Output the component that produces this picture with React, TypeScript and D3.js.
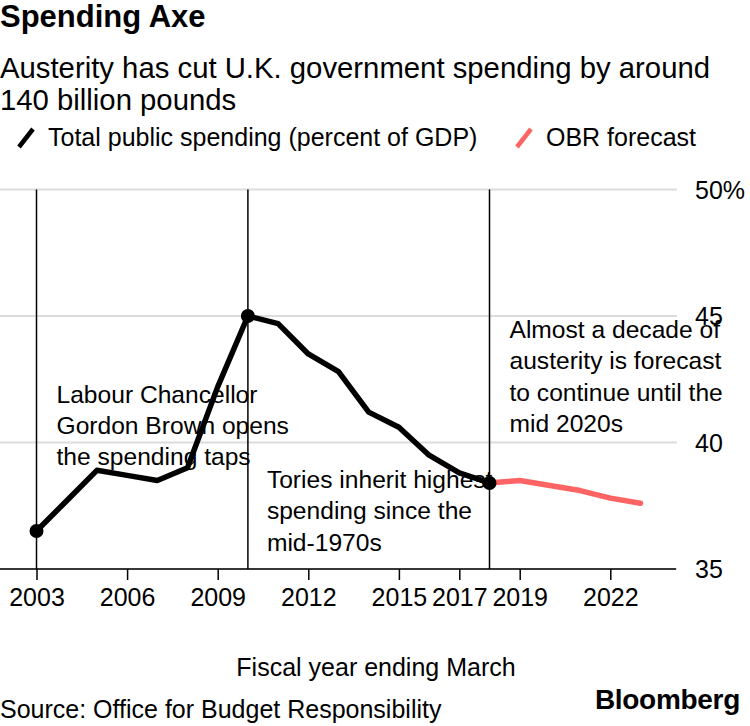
import React, { useEffect, useRef } from 'react';
import * as d3 from 'd3';

const years = [2003, 2004, 2005, 2006, 2007, 2008, 2009, 2010, 2011, 2012, 2013, 2014, 2015, 2016, 2017, 2018];
const spending = [36.5, 37.7, 38.9, 38.7, 38.5, 39.0, 42.2, 45.0, 44.7, 43.5, 42.8, 41.2, 40.6, 39.5, 38.8, 38.4];
const forecastYears = [2018, 2019, 2020, 2021, 2022, 2023];
const forecast = [38.4, 38.5, 38.3, 38.1, 37.8, 37.6];
const xTicks = [2003, 2006, 2009, 2012, 2015, 2017, 2019, 2022];
const yTicks = [35, 40, 45, 50];
const markerYears = [2003, 2010, 2018];

const annotations = [
  { year: 2003, dx: 20, value: 41.57, lines: ['Labour Chancellor', 'Gordon Brown opens', 'the spending taps'] },
  { year: 2010, dx: 19, value: 38.2, lines: ['Tories inherit highest', 'spending since the', 'mid-1970s'] },
  { year: 2018, dx: 20, value: 44.13, lines: ['Almost a decade of', 'austerity is forecast', 'to continue until the', 'mid 2020s'] },
];

const FONT = '"Liberation Sans", Arial, sans-serif';
const RED = '#ff6464';

const App = () => {
  const svgRef = useRef<SVGSVGElement>(null);

  useEffect(() => {
    const svg = d3.select(svgRef.current);
    svg.selectAll('*').remove();

    const width = 750;
    const height = 726;
    svg.attr('width', width).attr('height', height).style('font-family', FONT);

    const x = d3.scaleLinear().domain([2003, 2023]).range([36.5, 640.5]);
    const y = d3.scaleLinear().domain([35, 50]).range([569, 189.5]);

    // header
    svg.append('text').attr('x', 0).attr('y', 27).attr('font-size', 31).attr('font-weight', 700)
      .attr('fill', '#000').text('Spending Axe');
    svg.append('text').attr('x', 0).attr('y', 78).attr('font-size', 29.3).attr('fill', '#000')
      .text('Austerity has cut U.K. government spending by around');
    svg.append('text').attr('x', 0).attr('y', 110).attr('font-size', 29.3).attr('fill', '#000')
      .text('140 billion pounds');

    // legend
    const legend = [
      { label: 'Total public spending (percent of GDP)', color: '#000', x0: 19 },
      { label: 'OBR forecast', color: RED, x0: 517 },
    ];
    legend.forEach(l => {
      svg.append('line').attr('x1', l.x0).attr('y1', 147).attr('x2', l.x0 + 14).attr('y2', 129)
        .attr('stroke', l.color).attr('stroke-width', 4.5);
      svg.append('text').attr('x', l.x0 + 29).attr('y', 146).attr('font-size', 25).attr('fill', '#000').text(l.label);
    });

    // grid
    svg.append('g').selectAll('line').data(yTicks).enter().append('line')
      .attr('x1', 0).attr('x2', 677).attr('y1', d => y(d)).attr('y2', d => y(d))
      .attr('stroke', '#dcdcdc').attr('stroke-width', 2);

    // y labels
    svg.append('g').selectAll('text').data(yTicks).enter().append('text')
      .attr('x', 695).attr('y', d => y(d) + 9).attr('font-size', 25).attr('fill', '#000')
      .text(d => (d === 50 ? '50%' : String(d)));

    // x axis
    const xAxis = svg.append('g').attr('transform', 'translate(0,569)');
    xAxis.append('line').attr('x1', 0).attr('x2', 676).attr('stroke', '#000').attr('stroke-width', 1.5);
    const axisG = xAxis.append('g')
      .call(d3.axisBottom(x).tickValues(xTicks).tickFormat(d3.format('d')).tickSize(11));
    axisG.selectAll('.domain').remove();
    axisG.selectAll('.tick line').attr('stroke', '#000').attr('stroke-width', 1.5);
    axisG.selectAll('.tick text').attr('font-size', 25).attr('font-family', FONT).attr('fill', '#000')
      .attr('y', 37).attr('dy', null);

    // vertical markers
    svg.append('g').selectAll('line').data(markerYears).enter().append('line')
      .attr('x1', d => x(d)).attr('x2', d => x(d)).attr('y1', y(50)).attr('y2', 569)
      .attr('stroke', '#000').attr('stroke-width', 1.5);

    // lines
    const path = d3.line<[number, number]>().x(d => x(d[0])).y(d => y(d[1]));
    svg.append('path').datum(years.map((yr, i) => [yr, spending[i]] as [number, number]))
      .attr('d', path).attr('fill', 'none').attr('stroke', '#000').attr('stroke-width', 5.5)
      .attr('stroke-linejoin', 'round');
    svg.append('path').datum(forecastYears.map((yr, i) => [yr, forecast[i]] as [number, number]))
      .attr('d', path).attr('fill', 'none').attr('stroke', RED).attr('stroke-width', 5.5)
      .attr('stroke-linejoin', 'round').attr('stroke-linecap', 'round');

    // dots
    svg.append('g').selectAll('circle').data(markerYears).enter().append('circle')
      .attr('cx', d => x(d)).attr('cy', d => y(spending[years.indexOf(d)]))
      .attr('r', 7).attr('fill', '#000');

    // annotations
    annotations.forEach(a => {
      const t = svg.append('text').attr('font-size', 24.6).attr('fill', '#000');
      a.lines.forEach((ln, i) => {
        t.append('tspan').attr('x', x(a.year) + a.dx).attr('y', y(a.value) + i * 31.3).text(ln);
      });
    });

    // footer
    svg.append('text').attr('x', 376).attr('y', 676).attr('text-anchor', 'middle').attr('font-size', 25)
      .attr('fill', '#000').text('Fiscal year ending March');
    svg.append('text').attr('x', 0).attr('y', 718).attr('font-size', 25).attr('fill', '#000')
      .text('Source: Office for Budget Responsibility');
    svg.append('text').attr('x', 740).attr('y', 709).attr('text-anchor', 'end').attr('font-size', 28)
      .attr('font-weight', 700).attr('letter-spacing', -0.3).attr('fill', '#000').text('Bloomberg');
  }, []);

  return <svg ref={svgRef} style={{ position: 'absolute', left: 0, top: 0 }}></svg>;
};

export default App;
